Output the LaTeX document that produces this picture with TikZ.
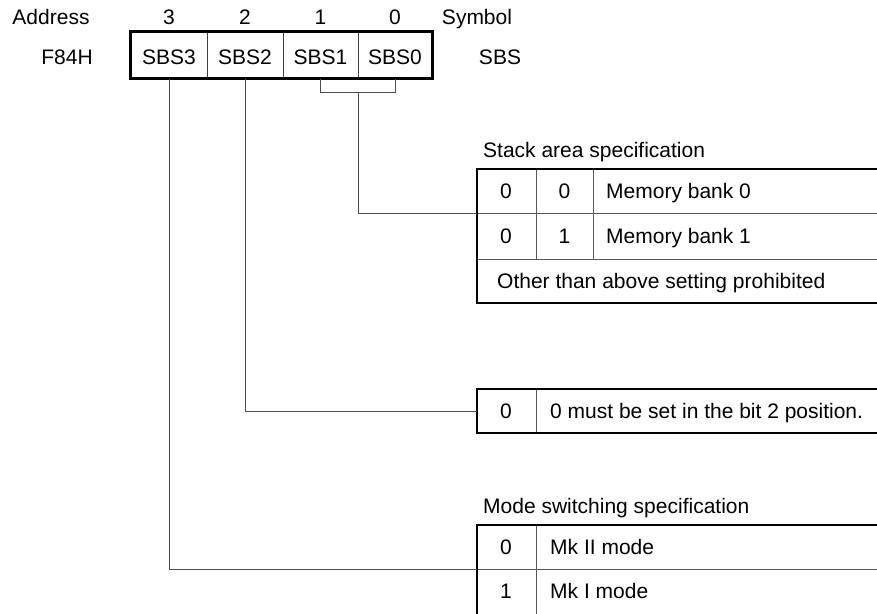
\documentclass[tikz,border=0pt]{standalone}
\usepackage{fontspec}
\setmainfont{Liberation Sans}
\begin{document}
\begin{tikzpicture}[x=1pt,y=-1pt,
  txt/.style={font=\fontsize{21}{25}\selectfont, inner sep=0pt, anchor=base},
  ltxt/.style={txt, anchor=base west},
  cell/.style={font=\fontsize{21}{25}\selectfont, inner sep=0pt, minimum height=46pt, draw=black!75, line width=1pt},
  thinline/.style={line width=1pt, draw=black!65},
  thickline/.style={line width=2.4pt, draw=black},
  conn/.style={line width=1pt, draw=black!70}
]
\useasboundingbox (0,0) rectangle (877,613);
\clip (0,0) rectangle (877,613);

% header row
\node[txt] (addr) at (51,24) {Address};
\node[txt] (n3) at (169,24) {3};
\node[txt] (n2) at (245,24) {2};
\node[txt] (n1) at (320.5,24) {1};
\node[txt] (n0) at (395,24) {0};
\node[txt] (sym) at (477,24) {Symbol};

% register row
\node[txt] (f84) at (67,64.5) {F84H};
\node[cell, minimum width=76pt] (b3) at (169,55) {};
\node[cell, minimum width=76pt] (b2) at (245,55) {};
\node[cell, minimum width=75pt] (b1) at (320.5,55) {};
\node[cell, minimum width=74pt] (b0) at (395,55) {};
\node[txt] (t3) at (169,64.5) {SBS3};
\node[txt] (t2) at (245,64.5) {SBS2};
\node[txt] (t1) at (320.5,64.5) {SBS1};
\node[txt] (t0) at (395,64.5) {SBS0};
\draw[thickline] (b3.north west) rectangle (b0.south east);
\node[txt] (sbs) at (500,64.5) {SBS};

% stack area table
\node[ltxt] (stitle) at (483,157) {Stack area specification};
\draw[thinline] (477,213) -- (890,213);
\draw[thinline] (477,259) -- (890,259);
\draw[thinline] (536,169) -- (536,259);
\draw[thinline] (593,169) -- (593,259);
\draw[thickline] (890,169) -- (477,169) -- (477,303) -- (890,303);
\node[txt] (s00a) at (506,198.5) {0};
\node[txt] (s00b) at (564.5,198.5) {0};
\node[ltxt] (s00t) at (606,198.5) {Memory bank 0};
\node[txt] (s01a) at (506,243.5) {0};
\node[txt] (s01b) at (564.5,243.5) {1};
\node[ltxt] (s01t) at (606,243.5) {Memory bank 1};
\node[ltxt] (sother) at (497,288.5) {Other than above setting prohibited};
\coordinate (stackin) at (477,213);

% bit 2 table
\draw[thinline] (536,389) -- (536,433);
\draw[thickline] (890,389) -- (477,389) -- (477,433) -- (890,433);
\node[txt] (z0) at (506,418.5) {0};
\node[ltxt] (zt) at (550,418.5) {0 must be set in the bit 2 position.};
\coordinate (bit2in) at (477,411);

% mode table
\node[ltxt] (mtitle) at (483,513) {Mode switching specification};
\draw[thinline] (477,569) -- (890,569);
\draw[thinline] (536,525) -- (536,620);
\draw[thickline] (890,525) -- (477,525) -- (477,620);
\node[txt] (m0) at (506,554.5) {0};
\node[ltxt] (m0t) at (550,554.5) {Mk II mode};
\node[txt] (m1) at (506,598.5) {1};
\node[ltxt] (m1t) at (550,598.5) {Mk I mode};
\coordinate (modein) at (477,569);

% connectors
\coordinate (brk) at (358,92);
\draw[conn] (b1.south) -- (b1.south |- brk) -- (b0.south |- brk) -- (b0.south);
\draw[conn] (brk) |- (stackin);
\draw[conn] (b2.south) |- (bit2in);
\draw[conn] (b3.south) |- (modein);
\end{tikzpicture}
\end{document}
